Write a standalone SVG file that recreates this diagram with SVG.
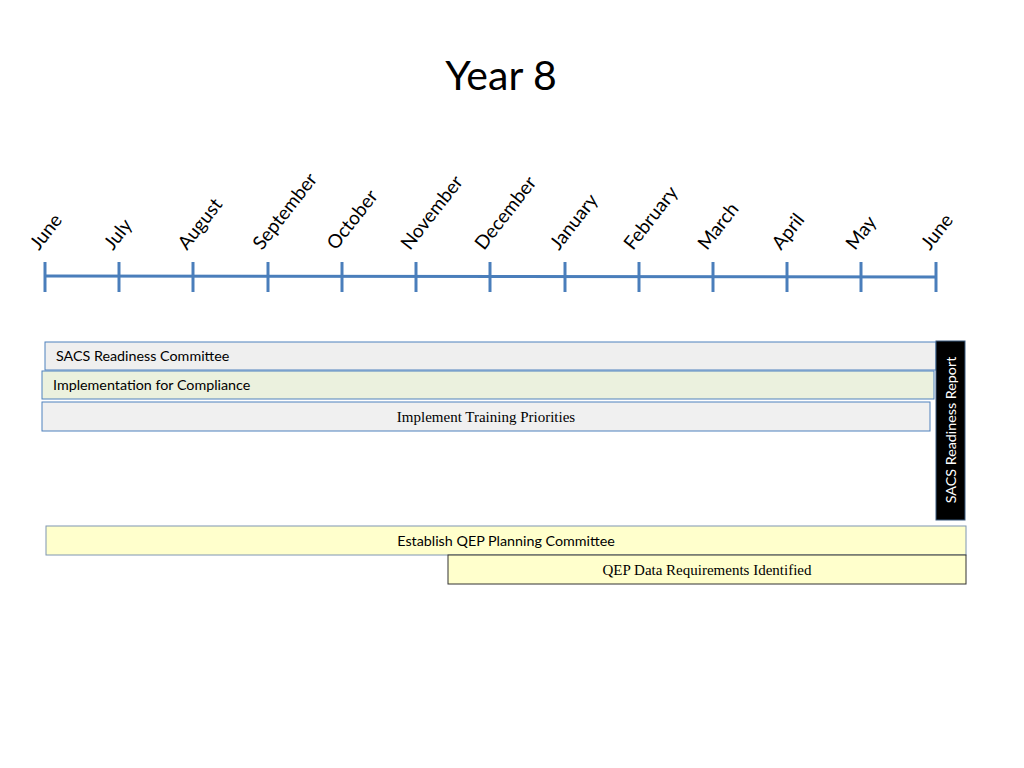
<svg xmlns="http://www.w3.org/2000/svg" width="1024" height="768" viewBox="0 0 1024 768">
<style>
.axis{stroke:#4a7ebb;stroke-width:3;fill:none}
.month{font-family:Lato,"Open Sans",sans-serif;font-size:19px;fill:#000}
.cal{font-family:Lato,"Open Sans",sans-serif;font-size:14.3px;fill:#000}
.tim{font-family:"Liberation Serif",serif;font-size:15px;fill:#000}
.bar{stroke:#4f81bd;stroke-width:1}
</style>
<rect width="1024" height="768" fill="#fff"/>
<text x="501" y="90" text-anchor="middle" font-family="Lato,'Open Sans',sans-serif" font-size="41" fill="#000">Year 8</text>
<g id="timeline">
<line class="axis" x1="45" y1="276" x2="936" y2="277"/>
<g class="axis">
<line x1="45" y1="262" x2="45" y2="292"/>
<line x1="119" y1="262" x2="119" y2="292"/>
<line x1="193" y1="262" x2="193" y2="292"/>
<line x1="268" y1="262" x2="268" y2="292"/>
<line x1="342" y1="262" x2="342" y2="292"/>
<line x1="416" y1="262" x2="416" y2="292"/>
<line x1="490" y1="262" x2="490" y2="292"/>
<line x1="565" y1="262" x2="565" y2="292"/>
<line x1="639" y1="262" x2="639" y2="292"/>
<line x1="713" y1="262" x2="713" y2="292"/>
<line x1="787" y1="262" x2="787" y2="292"/>
<line x1="861" y1="262" x2="861" y2="292"/>
<line x1="936" y1="262" x2="936" y2="292"/>
</g>
<g class="month">
<text transform="translate(39,251) rotate(-52)">June</text>
<text transform="translate(113,251) rotate(-52)">July</text>
<text transform="translate(187,251) rotate(-52)">August</text>
<text transform="translate(262,251) rotate(-52)">September</text>
<text transform="translate(336,251) rotate(-52)">October</text>
<text transform="translate(410,251) rotate(-52)">November</text>
<text transform="translate(484,251) rotate(-52)">December</text>
<text transform="translate(559,251) rotate(-52)">January</text>
<text transform="translate(633,251) rotate(-52)">February</text>
<text transform="translate(707,251) rotate(-52)">March</text>
<text transform="translate(781,251) rotate(-52)">April</text>
<text transform="translate(855,251) rotate(-52)">May</text>
<text transform="translate(930,251) rotate(-52)">June</text>
</g>
</g>
<g id="sacs-committee">
<rect class="bar" x="45" y="342" width="891" height="28" fill="#efefef"/>
<text class="cal" x="56" y="361">SACS Readiness Committee</text>
</g>
<g id="implementation-compliance">
<rect class="bar" x="42" y="371" width="892" height="28" fill="#ebf1de"/>
<text class="cal" x="53" y="390">Implementation for Compliance</text>
</g>
<g id="training-priorities">
<rect class="bar" x="42" y="402" width="888" height="29" fill="#f0f0f0"/>
<text class="tim" x="486" y="422" text-anchor="middle">Implement Training Priorities</text>
</g>
<g id="sacs-report">
<rect x="936" y="341" width="29" height="179" fill="#000" stroke="#3b5a7e" stroke-width="1"/>
<text class="cal" transform="translate(956,430) rotate(-90)" text-anchor="middle" style="fill:#fff">SACS Readiness Report</text>
</g>
<g id="qep-committee">
<rect x="46" y="526" width="920" height="29" fill="#ffffcc" stroke="#7f96b2" stroke-width="1"/>
<text class="cal" x="506" y="546" text-anchor="middle">Establish QEP Planning Committee</text>
</g>
<g id="qep-data">
<rect x="448" y="555" width="518" height="29" fill="#ffffcc" stroke="#333" stroke-width="1"/>
<text class="tim" x="707" y="575" text-anchor="middle">QEP Data Requirements Identified</text>
</g>
</svg>
